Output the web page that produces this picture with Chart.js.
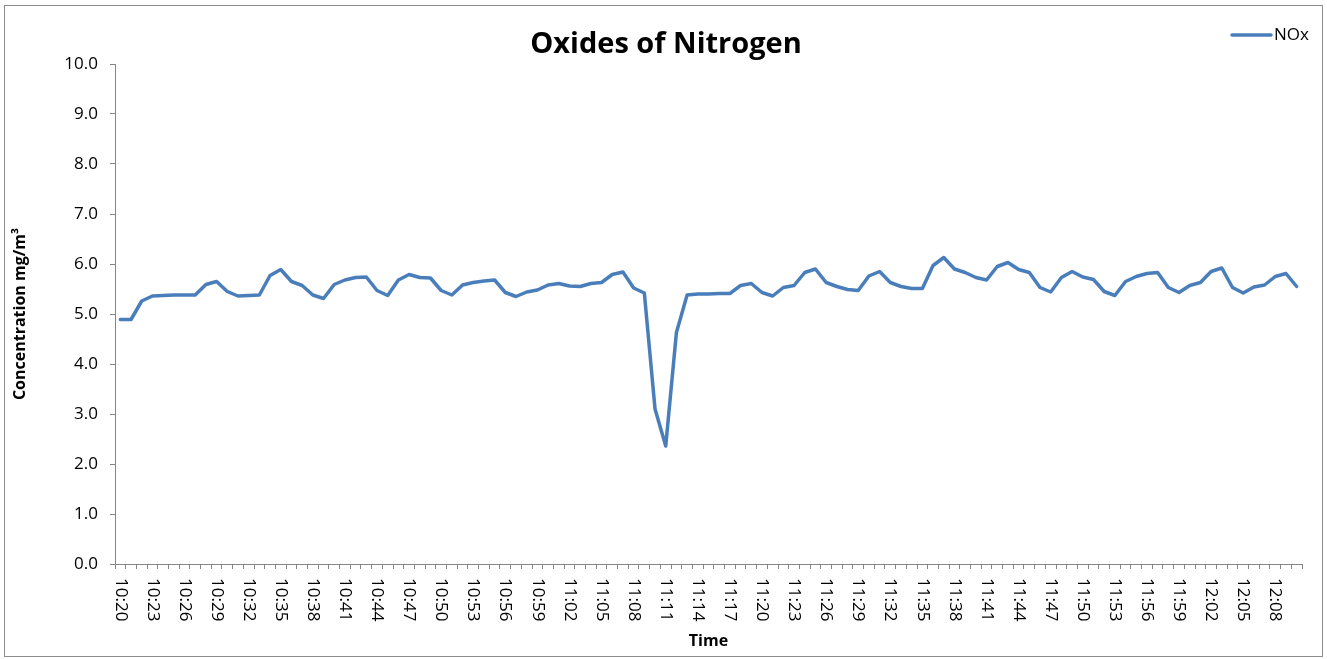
<!DOCTYPE html>
<html>
<head>
<meta charset="utf-8">
<script src="https://cdn.jsdelivr.net/npm/chart.js@4.4.1/dist/chart.umd.min.js"></script>
<style>
  html, body { margin: 0; padding: 0; background: #ffffff; }
  #wrap { position: relative; width: 1327px; height: 659px; }
  #frame { position: absolute; left: 4px; top: 5px; width: 1317px; height: 650px; border: 1px solid #8c8c8c; pointer-events: none; }
  canvas { position: absolute; left: 0; top: 0; }
</style>
</head>
<body>
<div id="wrap">
  <canvas id="c" width="1327" height="659"></canvas>
  <div id="frame"></div>
</div>
<script>
const timeLabels = [
  "10:20","10:21","10:22","10:23","10:24","10:25","10:26","10:27","10:28","10:29",
  "10:30","10:31","10:32","10:33","10:34","10:35","10:36","10:37","10:38","10:39",
  "10:40","10:41","10:42","10:43","10:44","10:45","10:46","10:47","10:48","10:49",
  "10:50","10:51","10:52","10:53","10:54","10:55","10:56","10:57","10:58","10:59",
  "11:00","11:01","11:02","11:03","11:04","11:05","11:06","11:07","11:08","11:09",
  "11:10","11:11","11:12","11:13","11:14","11:15","11:16","11:17","11:18","11:19",
  "11:20","11:21","11:22","11:23","11:24","11:25","11:26","11:27","11:28","11:29",
  "11:30","11:31","11:32","11:33","11:34","11:35","11:36","11:37","11:38","11:39",
  "11:40","11:41","11:42","11:43","11:44","11:45","11:46","11:47","11:48","11:49",
  "11:50","11:51","11:52","11:53","11:54","11:55","11:56","11:57","11:58","11:59",
  "12:00","12:01","12:02","12:03","12:04","12:05","12:06","12:07","12:08","12:09",
  "12:10"
];

const noxValues = [
  4.89,4.89,5.26,5.36,5.37,5.38,5.38,5.38,5.59,5.65,
  5.45,5.36,5.37,5.38,5.77,5.89,5.65,5.57,5.38,5.31,
  5.59,5.68,5.73,5.74,5.47,5.37,5.68,5.79,5.73,5.72,
  5.47,5.38,5.58,5.63,5.66,5.68,5.43,5.35,5.44,5.48,
  5.58,5.61,5.56,5.55,5.61,5.63,5.79,5.84,5.52,5.42,
  3.10,2.36,4.63,5.38,5.40,5.40,5.41,5.41,5.57,5.61,
  5.43,5.36,5.53,5.57,5.83,5.90,5.63,5.55,5.49,5.47,
  5.76,5.85,5.63,5.55,5.51,5.51,5.97,6.13,5.90,5.83,
  5.73,5.68,5.95,6.03,5.89,5.83,5.53,5.44,5.73,5.85,
  5.74,5.69,5.45,5.37,5.65,5.75,5.81,5.83,5.53,5.43,
  5.57,5.63,5.85,5.92,5.53,5.42,5.54,5.58,5.75,5.81,
  5.55
];

const seriesName = "NOx";
const chartTitle = "Oxides of Nitrogen";
const yAxisTitle = "Concentration mg/m\u00B3";
const xAxisTitle = "Time";
const labelEvery = 3;

const FONT = "'Open Sans', 'DejaVu Sans', sans-serif";
const LINE_COLOR = "#4A7EBB";
const AXIS_COLOR = "#868686";

// Draws x tick labels rotated clockwise (reading top-to-bottom) and the legend
const excelDecor = {
  id: 'excelDecor',
  afterDraw(chart) {
    const ctx = chart.ctx;
    const xs = chart.scales.x;
    ctx.save();
    ctx.fillStyle = '#000';
    ctx.font = "17px " + FONT;
    ctx.textAlign = 'left';
    ctx.textBaseline = 'middle';
    const top = xs.top + 14;
    xs.ticks.forEach((t, i) => {
      if (i % labelEvery !== 0) return;
      const x = xs.getPixelForTick(i);
      ctx.save();
      ctx.translate(x, top);
      ctx.rotate(Math.PI / 2);
      ctx.fillText(chart.data.labels[i], 0, 0);
      ctx.restore();
    });
    // legend
    const ds = chart.data.datasets[0];
    const ly = 35;
    ctx.strokeStyle = ds.borderColor;
    ctx.lineWidth = ds.borderWidth;
    ctx.lineCap = 'round';
    ctx.beginPath();
    ctx.moveTo(1232, ly);
    ctx.lineTo(1271, ly);
    ctx.stroke();
    ctx.fillStyle = '#000';
    ctx.font = "17px " + FONT;
    ctx.textBaseline = 'middle';
    ctx.fillText(ds.label, 1274, ly);
    ctx.restore();
  }
};

new Chart(document.getElementById('c'), {
  type: 'line',
  data: {
    labels: timeLabels,
    datasets: [{
      label: seriesName,
      data: noxValues,
      borderColor: LINE_COLOR,
      backgroundColor: LINE_COLOR,
      borderWidth: 3.5,
      pointRadius: 0,
      tension: 0,
      fill: false,
      borderJoinStyle: 'round',
      borderCapStyle: 'round'
    }]
  },
  options: {
    responsive: false,
    animation: false,
    events: [],
    layout: { padding: { left: 5, right: 0, top: 0, bottom: 3 } },
    plugins: {
      legend: { display: false },
      tooltip: { enabled: false },
      title: {
        display: true,
        text: chartTitle,
        color: '#000',
        font: { family: FONT, size: 29, weight: 'bold' },
        padding: { top: 27.6, bottom: 1.6 }
      }
    },
    scales: {
      x: {
        type: 'category',
        offset: true,
        grid: {
          display: true,
          offset: true,
          drawOnChartArea: false,
          drawTicks: true,
          tickLength: 5,
          color: AXIS_COLOR,
          lineWidth: 1
        },
        border: { display: true, color: AXIS_COLOR, width: 1 },
        ticks: { display: false, autoSkip: false },
        title: {
          display: true,
          text: xAxisTitle,
          color: '#000',
          font: { family: FONT, size: 16, weight: 'bold' },
          padding: { top: 0, bottom: 5.4 }
        },
        afterFit(s) { s.height = 92; }
      },
      y: {
        type: 'linear',
        position: 'left',
        min: 0,
        max: 10,
        grid: {
          display: true,
          drawOnChartArea: false,
          drawTicks: true,
          tickLength: 5,
          color: AXIS_COLOR,
          lineWidth: 1
        },
        border: { display: true, color: AXIS_COLOR, width: 1 },
        ticks: {
          stepSize: 1,
          color: '#000',
          padding: 12,
          font: { family: FONT, size: 17 },
          callback: (v) => Number(v).toFixed(1)
        },
        title: {
          display: true,
          text: yAxisTitle,
          color: '#000',
          font: { family: FONT, size: 16, weight: 'bold' },
          padding: { top: 5.5, bottom: 0 }
        },
        afterFit(s) { s.width = 110; }
      },
      yRight: {
        type: 'linear',
        position: 'right',
        display: true,
        grid: { display: false },
        border: { display: false },
        ticks: { display: false },
        afterFit(s) { s.width = 25; }
      }
    }
  },
  plugins: [excelDecor]
});
</script>
</body>
</html>
